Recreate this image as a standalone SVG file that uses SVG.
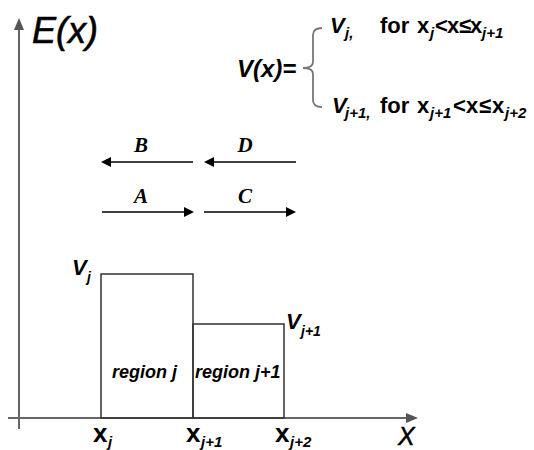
<svg xmlns="http://www.w3.org/2000/svg" width="534" height="450" viewBox="0 0 534 450">
<style>
text{font-family:"Liberation Sans",Arial,sans-serif;fill:#000}
.b{font-weight:bold}
.i{font-style:italic}
.bi{font-weight:bold;font-style:italic}
.lab{font-family:"Liberation Serif","Times New Roman",serif;font-weight:bold;font-style:italic;font-size:21px}
.axis{stroke:#666;stroke-width:2;fill:none}
.box{stroke:#333;stroke-width:1.5;fill:none}
.arr{stroke:#000;stroke-width:1.5;fill:none}
.head{fill:#000}
.axhead{fill:#555}
.brace{stroke:#777;stroke-width:1.8;fill:none}
</style>
<rect width="534" height="450" fill="#fff"/>
<g id="axes">
<line class="axis" x1="19" y1="28" x2="19" y2="429"/>
<polygon class="axhead" points="19,18 14,30 24,30"/>
<line class="axis" x1="8" y1="418" x2="408" y2="418"/>
<polygon class="axhead" points="418,418 406,413 406,423"/>
<text class="i" x="32" y="43" font-size="36" stroke="#000" stroke-width="0.6">E(x)</text>
<text class="i" x="398" y="445" font-size="25" stroke="#000" stroke-width="0.5">X</text>
</g>
<g id="formula">
<text class="bi" x="237" y="77" font-size="24">V(x)=</text>
<path class="brace" d="M322,28 Q313,28 313,35 V62 Q313,68 303,68 Q313,68 313,74 V100 Q313,107 322,107"/>
<text class="b" font-size="22"><tspan class="i" x="330" y="33">V</tspan><tspan class="i" x="345" y="38" font-size="15">j,</tspan><tspan x="380" y="33">for</tspan><tspan x="417" y="33">x</tspan><tspan class="i" x="430" y="38" font-size="15">j</tspan><tspan x="435" y="33">&lt;</tspan><tspan x="447" y="33">x</tspan><tspan x="459" y="33">≤</tspan><tspan x="470" y="33">x</tspan><tspan class="i" x="482" y="38" font-size="15">j+1</tspan></text>
<text class="b" font-size="22"><tspan class="i" x="332" y="113">V</tspan><tspan class="i" x="345" y="118" font-size="15">j+1,</tspan><tspan x="380" y="113">for</tspan><tspan x="417" y="113">x</tspan><tspan class="i" x="430" y="118" font-size="15">j+1</tspan><tspan x="453" y="113">&lt;</tspan><tspan x="466" y="113">x</tspan><tspan x="479" y="113">≤</tspan><tspan x="492" y="113">x</tspan><tspan class="i" x="505" y="118" font-size="15">j+2</tspan></text>
</g>
<g id="connectors">
<line class="arr" x1="110" y1="162" x2="193" y2="162"/>
<polygon class="head" points="101,162 111,157 111,167"/>
<line class="arr" x1="213" y1="162" x2="296" y2="162"/>
<polygon class="head" points="204,162 214,157 214,167"/>
<line class="arr" x1="102" y1="212" x2="185" y2="212"/>
<polygon class="head" points="194,212 184,207 184,217"/>
<line class="arr" x1="204" y1="212" x2="287" y2="212"/>
<polygon class="head" points="296,212 286,207 286,217"/>
</g>
<g id="labelB"><text class="lab" x="141" y="152" text-anchor="middle">B</text></g>
<g id="labelD"><text class="lab" x="245" y="152" text-anchor="middle">D</text></g>
<g id="labelA"><text class="lab" x="141" y="203" text-anchor="middle">A</text></g>
<g id="labelC"><text class="lab" x="245" y="203" text-anchor="middle">C</text></g>
<g id="regionj">
<rect class="box" x="101" y="274" width="92" height="144"/>
<text class="bi" x="112" y="378" font-size="18">region j</text>
</g>
<g id="regionj1">
<rect class="box" x="193" y="324" width="91" height="94"/>
<text class="bi" x="195" y="378" font-size="18">region j+1</text>
</g>
<g id="levels">
<text class="bi" font-size="22"><tspan x="72" y="275">V</tspan><tspan x="87" y="282" font-size="14">j</tspan></text>
<text class="bi" font-size="22"><tspan x="286" y="329">V</tspan><tspan x="301" y="336" font-size="14">j+1</tspan></text>
</g>
<g id="ticks">
<text class="b" font-size="26"><tspan x="93" y="442">x</tspan><tspan class="i" x="108" y="447" font-size="15">j</tspan></text>
<text class="b" font-size="26"><tspan x="186" y="442">x</tspan><tspan class="i" x="201" y="447" font-size="15">j+1</tspan></text>
<text class="b" font-size="26"><tspan x="275" y="442">x</tspan><tspan class="i" x="290" y="447" font-size="15">j+2</tspan></text>
</g>
</svg>
